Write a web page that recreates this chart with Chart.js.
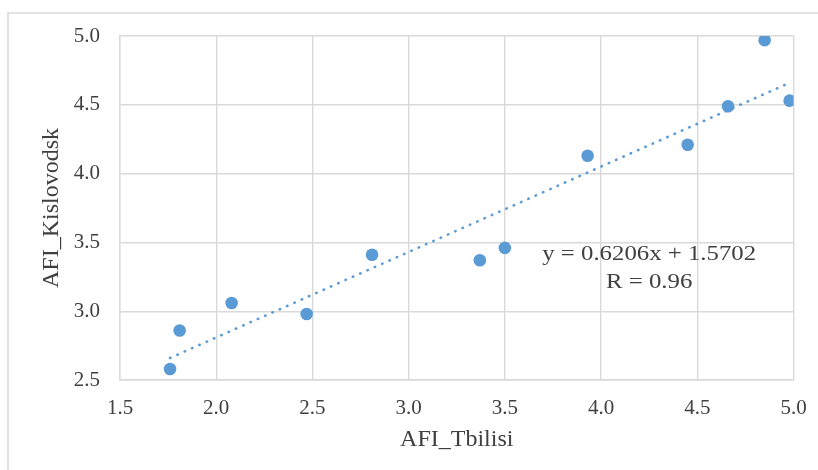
<!DOCTYPE html>
<html lang="en">
<head>
  <meta charset="UTF-8">
  <title>AFI Tbilisi vs Kislovodsk</title>
  <script src="https://cdn.jsdelivr.net/npm/chart.js"></script>
  <style>
    html, body {
      margin: 0;
      padding: 0;
      background-color: #fff;
    }
    #wrap {
      position: relative;
      width: 818px;
      height: 470px;
    }
  </style>
</head>
<body>

<div id="wrap">
  <canvas id="afiChart" width="818" height="470"></canvas>
</div>

<script>
  // values
  const afiTbilisi    = [1.76, 1.81, 2.08, 2.47, 2.81, 3.37, 3.50, 3.93, 4.45, 4.66, 4.85, 4.98];
  const afiKislovodsk = [2.58, 2.86, 3.06, 2.98, 3.41, 3.37, 3.46, 4.13, 4.21, 4.49, 4.97, 4.53];

  // linear trend (y = 0.6206x + 1.5702), end points
  const trendX = [1.76, 4.98];
  const trendY = [2.66, 4.66];

  const equationLines = ['y = 0.6206x + 1.5702', 'R = 0.96'];
  const xTicks = [1.5, 2.0, 2.5, 3.0, 3.5, 4.0, 4.5, 5.0];
  const yTicks = [2.5, 3.0, 3.5, 4.0, 4.5, 5.0];

  const blue = '#5b9bd5';
  const gridColor = '#d9d9d9';
  const textColor = '#404040';
  const serif = "'Liberation Serif', 'Times New Roman', serif";

  const points = afiTbilisi.map((x, i) => ({ x: x, y: afiKislovodsk[i] }));
  const trend = trendX.map((x, i) => ({ x: x, y: trendY[i] }));

  // frame of the chart box + the equation text
  const extras = {
    id: 'extras',
    beforeDraw(chart) {
      const c = chart.ctx;
      c.save();
      c.strokeStyle = gridColor;
      c.lineWidth = 1.5;
      c.beginPath();
      c.moveTo(8, 470);
      c.lineTo(8, 13);
      c.lineTo(818, 13);
      c.stroke();
      c.restore();
    },
    afterDatasetsDraw(chart) {
      const c = chart.ctx;
      const xs = chart.scales.x, ys = chart.scales.y;
      const cx = xs.getPixelForValue(4.25);
      const rows = [3.41, 3.21];
      c.save();
      c.fillStyle = textColor;
      c.font = '20px ' + serif;
      c.textAlign = 'center';
      c.textBaseline = 'middle';
      rows.forEach((v, i) => {
        c.save();
        c.translate(cx, ys.getPixelForValue(v));
        c.scale(1.24, 1);
        c.fillText(equationLines[i], 0, 0);
        c.restore();
      });
      c.restore();
    }
  };

  const ctx = document.getElementById('afiChart').getContext('2d');
  const afiChart = new Chart(ctx, {
    type: 'scatter',
    data: {
      datasets: [{
        data: points,
        backgroundColor: blue,
        borderWidth: 0,
        pointRadius: 6.3,
        pointHoverRadius: 6.3,
        order: 1
      }, {
        type: 'line',
        data: trend,
        borderColor: blue,
        borderWidth: 2.6,
        borderDash: [0.5, 7.5],
        borderCapStyle: 'round',
        pointRadius: 0,
        fill: false,
        order: 2
      }]
    },
    options: {
      responsive: false,
      animation: false,
      events: [],
      layout: {
        padding: { left: 30, right: 24.5, top: 36, bottom: 10 }
      },
      plugins: {
        legend: { display: false },
        tooltip: { enabled: false }
      },
      scales: {
        x: {
          type: 'linear',
          min: 1.5,
          max: 5.0,
          afterBuildTicks: s => { s.ticks = xTicks.map(v => ({ value: v })); },
          afterFit: s => {
            s.height = 470 - 380 - 10;
            s.paddingLeft = 0;
            s.paddingRight = 0;
          },
          grid: { color: gridColor, lineWidth: 1.4, drawTicks: false },
          border: { color: gridColor, width: 1.4 },
          ticks: {
            color: textColor,
            padding: 16,
            font: { family: serif, size: 21 },
            callback: v => v.toFixed(1)
          },
          title: {
            display: true,
            text: 'AFI_Tbilisi',
            color: textColor,
            font: { family: serif, size: 24 },
            padding: { top: 0, bottom: 6 }
          }
        },
        y: {
          type: 'linear',
          min: 2.5,
          max: 5.0,
          afterBuildTicks: s => { s.ticks = yTicks.map(v => ({ value: v })); },
          afterFit: s => { s.width = 120 - 30; },
          grid: { color: gridColor, lineWidth: 1.4, drawTicks: false },
          border: { color: gridColor, width: 1.4 },
          ticks: {
            color: textColor,
            padding: 20,
            font: { family: serif, size: 21 },
            callback: v => v.toFixed(1)
          },
          title: {
            display: true,
            text: 'AFI_Kislovodsk',
            color: textColor,
            font: { family: serif, size: 24 },
            padding: { top: 7, bottom: 0 }
          }
        }
      }
    },
    plugins: [extras]
  });
</script>
</body>
</html>
